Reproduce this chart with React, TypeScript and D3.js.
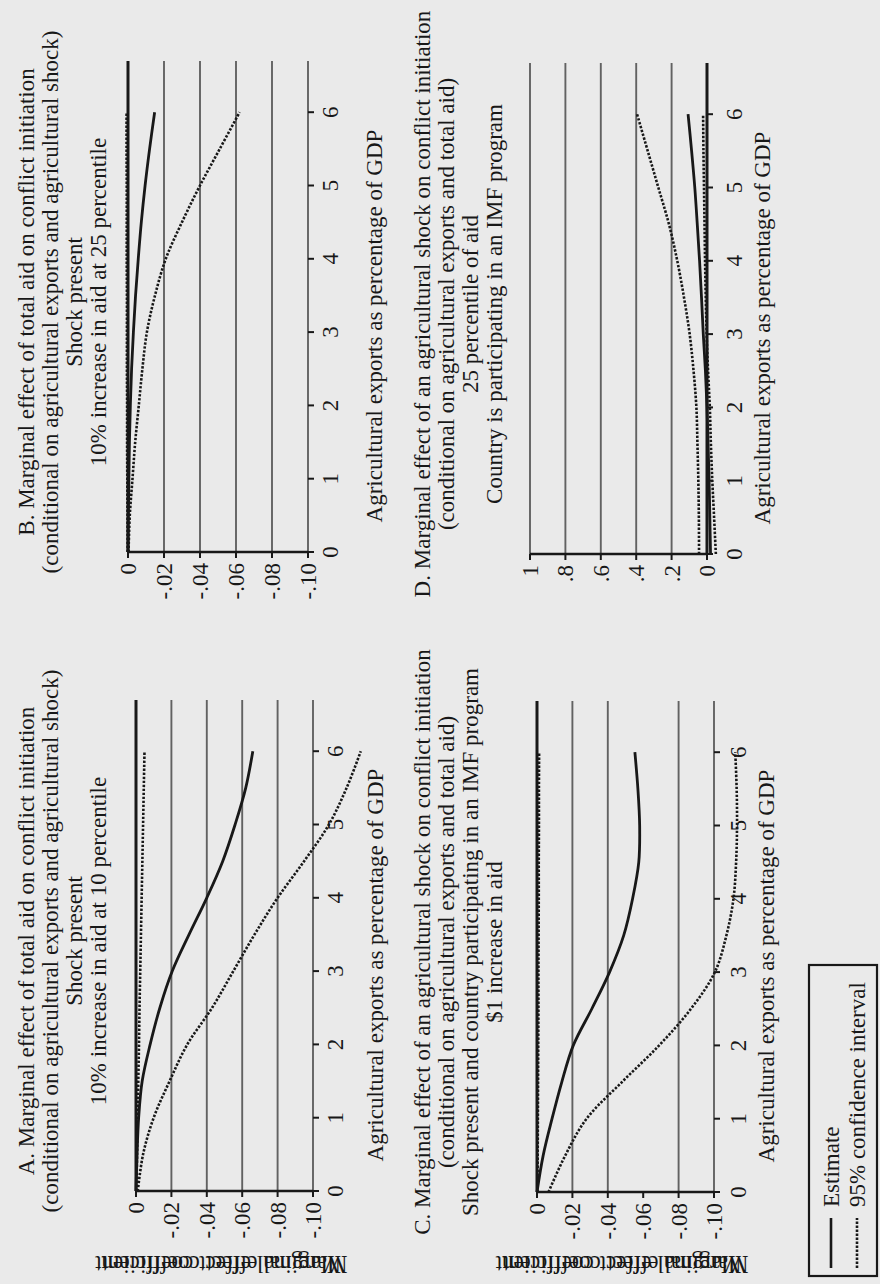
import React from "react";
import * as d3 from "d3";

const WIDTH = 880;
const HEIGHT = 1284;

// Agricultural exports (% of GDP) at which each marginal effect is evaluated
const exportsPoints = [0, 0.5, 1, 1.5, 2, 2.5, 3, 3.5, 4, 4.5, 5, 5.5, 6];
const exportsTicks = [0, 1, 2, 3, 4, 5, 6];

const aidTicks = [0, -0.02, -0.04, -0.06, -0.08, -0.1];
const aidTickLabels = ["0", "-.02", "-.04", "-.06", "-.08", "-.10"];
const imfTicks = [1, 0.8, 0.6, 0.4, 0.2, 0];
const imfTickLabels = ["1", ".8", ".6", ".4", ".2", "0"];

// A. total aid, aid at 10th percentile
const estimateA = [0, -0.0006, -0.0015, -0.0035, -0.008, -0.0135, -0.0205, -0.03, -0.04, -0.049, -0.056, -0.062, -0.066];
const lowerA = [-0.001, -0.004, -0.01, -0.019, -0.029, -0.043, -0.055, -0.067, -0.08, -0.095, -0.109, -0.119, -0.127];
const upperA = [-0.0003, -0.0006, -0.001, -0.0013, -0.0017, -0.002, -0.0024, -0.0028, -0.0032, -0.0036, -0.004, -0.0044, -0.0048];

// B. total aid, aid at 25th percentile
const estimateB = [0, -0.0002, -0.0005, -0.0008, -0.0013, -0.002, -0.003, -0.0042, -0.0057, -0.0074, -0.0095, -0.012, -0.0148];
const lowerB = [-0.0003, -0.001, -0.0025, -0.004, -0.006, -0.008, -0.0105, -0.015, -0.021, -0.03, -0.04, -0.051, -0.062];
const upperB = [0.0002, 0.0003, 0.0004, 0.0005, 0.0005, 0.0006, 0.0006, 0.0006, 0.0007, 0.0007, 0.0007, 0.0008, 0.0008];

// C. agricultural shock, IMF program, $1 more aid
const estimateC = [0, -0.0035, -0.0085, -0.014, -0.0205, -0.031, -0.041, -0.049, -0.054, -0.0575, -0.058, -0.057, -0.0553];
const lowerC = [-0.0065, -0.016, -0.028, -0.048, -0.069, -0.087, -0.1005, -0.107, -0.111, -0.1125, -0.113, -0.1128, -0.112];
const upperC = [-0.0003, -0.0004, -0.0005, -0.0006, -0.0007, -0.0008, -0.0008, -0.0009, -0.001, -0.001, -0.0011, -0.0011, -0.0012];

// D. agricultural shock, 25th percentile of aid, IMF program
const estimateD = [-0.02, -0.016, -0.012, -0.006, 0.0, 0.009, 0.021, 0.031, 0.042, 0.055, 0.069, 0.087, 0.107];
const lowerD = [-0.05, -0.04, -0.03, -0.022, -0.016, -0.006, 0.002, 0.007, 0.011, 0.014, 0.017, 0.02, 0.022];
const upperD = [0.045, 0.046, 0.049, 0.054, 0.06, 0.076, 0.098, 0.13, 0.168, 0.215, 0.275, 0.335, 0.395];

const titleA = [
  "A. Marginal effect of total aid on conflict initiation",
  "(conditional on agricultural exports and agricultural shock)",
  "Shock present",
  "10% increase in aid at 10 percentile",
];
const titleB = [
  "B. Marginal effect of total aid on conflict initiation",
  "(conditional on agricultural exports and agricultural shock)",
  "Shock present",
  "10% increase in aid at 25 percentile",
];
const titleC = [
  "C. Marginal effect of an agricultural shock on conflict initiation",
  "(conditional on agricultural exports and total aid)",
  "Shock present and country participating in an IMF program",
  "$1 increase in aid",
];
const titleD = [
  "D. Marginal effect of an agricultural shock on conflict initiation",
  "(conditional on agricultural exports and total aid)",
  "25 percentile of aid",
  "Country is participating in an IMF program",
];

const X_LABEL = "Agricultural exports as percentage of GDP";
const Y_LABEL = "Marginal effect coefficient";
const LEGEND_LABELS = ["Estimate", "95% confidence interval"];

// ---- page geometry: a landscape page turned a quarter turn on screen ----
const PAGE_W = HEIGHT;
const X_MAX = 6.7;
const UNIT = 73.3;
const FONT = "'Liberation Serif', 'Times New Roman', Times, serif";
const INK = "#181818";
const GRID = "#626262";
const FS = 23;
const DOTS = "2.4 1.6";

type Panel = {
  id: string;
  title: string[];
  titleBaselines: number[];
  x0: number;
  yTop: number;
  yBottom: number;
  domain: [number, number];
  ticks: number[];
  tickLabels: string[];
  grid: number[];
  zero: number;
  tickGap: number;
  xLabelGap: number;
  estimate: number[];
  lower: number[];
  upper: number[];
};

const rowTop = [34, 58, 82, 106];
const rowBottom = [430, 454, 478, 502];

const panels: Panel[] = [
  {
    id: "A", title: titleA, titleBaselines: rowTop, x0: 93, yTop: 136, yBottom: 313,
    domain: [0, -0.1], ticks: aidTicks, tickLabels: aidTickLabels,
    grid: aidTicks.slice(1), zero: 0, tickGap: 22, xLabelGap: 62,
    estimate: estimateA, lower: lowerA, upper: upperA,
  },
  {
    id: "B", title: titleB, titleBaselines: rowTop, x0: 732, yTop: 128, yBottom: 308,
    domain: [0, -0.1], ticks: aidTicks, tickLabels: aidTickLabels,
    grid: aidTicks.slice(1), zero: 0, tickGap: 22, xLabelGap: 66,
    estimate: estimateB, lower: lowerB, upper: upperB,
  },
  {
    id: "C", title: titleC, titleBaselines: rowBottom, x0: 92, yTop: 537, yBottom: 714,
    domain: [0, -0.1], ticks: aidTicks, tickLabels: aidTickLabels,
    grid: [-0.02, -0.04, -0.08, -0.1], zero: 0, tickGap: 24, xLabelGap: 52,
    estimate: estimateC, lower: lowerC, upper: upperC,
  },
  {
    id: "D", title: titleD, titleBaselines: rowBottom, x0: 730, yTop: 530, yBottom: 707,
    domain: [1, 0], ticks: imfTicks, tickLabels: imfTickLabels,
    grid: [1, 0.8, 0.6, 0.4, 0.2], zero: 0, tickGap: 27, xLabelGap: 55,
    estimate: estimateD, lower: lowerD, upper: upperD,
  },
];

// page coordinates -> screen coordinates (quarter turn counter-clockwise)
const toScreen = (px: number, py: number): [number, number] => [py, PAGE_W - px];

function PanelView({ p }: { p: Panel }) {
  const x = d3.scaleLinear().domain([0, X_MAX]).range([p.x0, p.x0 + X_MAX * UNIT]);
  const y = d3.scaleLinear().domain(p.domain).range([p.yTop, p.yBottom]);
  const line = d3
    .line<number>()
    .x((_, i) => x(exportsPoints[i]))
    .y((d) => y(d))
    .curve(d3.curveCatmullRom.alpha(0.5));
  const [xa, xb] = x.range();
  const titleCenter = p.x0 + 250;

  return (
    <g>
      {p.title.map((t, i) => (
        <text key={i} x={titleCenter} y={p.titleBaselines[i]} textAnchor="middle">
          {t}
        </text>
      ))}

      {p.grid.map((v) => (
        <line key={v} x1={xa} x2={xb} y1={y(v)} y2={y(v)} stroke={GRID} strokeWidth={1.9} />
      ))}
      <line x1={xa} x2={xb} y1={y(p.zero)} y2={y(p.zero)} stroke={INK} strokeWidth={3} />

      {/* exports = 0 axis with coefficient ticks */}
      <line x1={xa} x2={xa} y1={p.yTop} y2={p.yBottom} stroke={INK} strokeWidth={2.6} />
      {p.ticks.map((v, i) => (
        <g key={v}>
          <line x1={xa - 6} x2={xa} y1={y(v)} y2={y(v)} stroke={INK} strokeWidth={2} />
          <text x={xa - 11} y={y(v)} dy="0.35em" textAnchor="end">
            {p.tickLabels[i]}
          </text>
        </g>
      ))}

      {/* exports ticks along the bottom */}
      {exportsTicks.map((t) => (
        <g key={t}>
          <line x1={x(t)} x2={x(t)} y1={p.yBottom} y2={p.yBottom + 6} stroke={INK} strokeWidth={2} />
          <text x={x(t)} y={p.yBottom + p.tickGap} dy="0.35em" textAnchor="middle">
            {t}
          </text>
        </g>
      ))}

      <text x={p.x0 + 226} y={p.yBottom + p.xLabelGap} dy="0.35em" textAnchor="middle">
        {X_LABEL}
      </text>

      <path d={line(p.upper) ?? ""} fill="none" stroke={INK} strokeWidth={2.6} strokeDasharray={DOTS} />
      <path d={line(p.lower) ?? ""} fill="none" stroke={INK} strokeWidth={2.6} strokeDasharray={DOTS} />
      <path d={line(p.estimate) ?? ""} fill="none" stroke={INK} strokeWidth={2.8} />
    </g>
  );
}

// vertical axis title, drawn directly in screen space (it reads upside down)
function YTitle({ p }: { p: Panel }) {
  const [sx, sy] = toScreen(28, (p.yTop + p.yBottom) / 2);
  return (
    <text
      transform={`translate(${sx},${sy}) rotate(180)`}
      textAnchor="middle"
      fontSize={25}
      textLength={246}
      lengthAdjust="spacingAndGlyphs"
    >
      {Y_LABEL}
    </text>
  );
}

function Legend() {
  const rows = [
    { label: LEGEND_LABELS[0], dash: undefined as string | undefined, y: 831 },
    { label: LEGEND_LABELS[1], dash: DOTS, y: 857 },
  ];
  return (
    <g>
      <rect x={8} y={809} width={311} height={68} fill="none" stroke={INK} strokeWidth={2.2} />
      {rows.map((r) => (
        <g key={r.label}>
          <line x1={16} x2={66} y1={r.y} y2={r.y} stroke={INK} strokeWidth={2.6} strokeDasharray={r.dash} />
          <text x={77} y={r.y} dy="0.35em">
            {r.label}
          </text>
        </g>
      ))}
    </g>
  );
}

export default function App() {
  return (
    <svg
      width={WIDTH}
      height={HEIGHT}
      viewBox={`0 0 ${WIDTH} ${HEIGHT}`}
      style={{ position: "absolute", left: 0, top: 0, background: "#eaeaea" }}
    >
      <rect width={WIDTH} height={HEIGHT} fill="#eaeaea" />
      <g fontFamily={FONT} fontSize={FS} fill={INK}>
        <g transform={`translate(0,${PAGE_W}) rotate(-90)`}>
          {panels.map((p) => (
            <PanelView key={p.id} p={p} />
          ))}
          <Legend />
        </g>
        {panels.map((p) => (
          <YTitle key={p.id} p={p} />
        ))}
      </g>
    </svg>
  );
}
